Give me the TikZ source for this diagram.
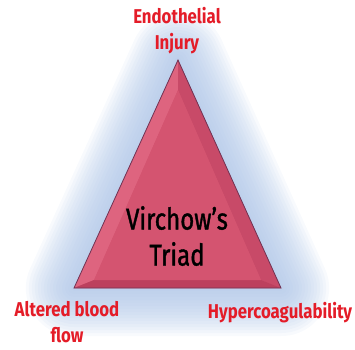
\documentclass[tikz,border=0pt]{standalone}
\usepackage{fontspec}
\setmainfont{Fira Sans}
\newfontfamily\labelfont[FakeStretch=0.84]{Fira Sans}
\newfontfamily\triadfont[FakeStretch=0.8,FakeBold=1.2]{Fira Sans}
\definecolor{labelred}{RGB}{228,28,40}
\definecolor{glowblue}{RGB}{170,194,230}
\definecolor{triface}{RGB}{212,84,112}
\definecolor{trileft}{RGB}{222,100,127}
\definecolor{triright}{RGB}{200,74,104}
\definecolor{tribottom}{RGB}{188,64,94}
\definecolor{triedge}{RGB}{112,52,84}
\begin{document}
\begin{tikzpicture}[x=1pt,y=-1pt,
  lbl/.style={text=labelred, font=\labelfont\bfseries\fontsize{20}{26}\selectfont, align=center, inner sep=0pt},
  ttl/.style={text=black, font=\triadfont\fontsize{30}{36}\selectfont, align=center, inner sep=0pt}]
\useasboundingbox (0,0) rectangle (355,349);
\coordinate (top) at (178,60);
\coordinate (left) at (74,288);
\coordinate (right) at (281,288);
\coordinate (itop) at (178,90);
\coordinate (ileft) at (94,280);
\coordinate (iright) at (261,280);
% soft blue glow
\foreach \w in {96,90,...,6}
  \draw[glowblue, line width=\w pt, line join=round, opacity=0.085] (top) -- (left) -- (right) -- cycle;
% bevelled triangle
\fill[triface] (top) -- (left) -- (right) -- cycle;
\fill[trileft] (top) -- (left) -- (ileft) -- (itop) -- cycle;
\fill[triright] (top) -- (right) -- (iright) -- (itop) -- cycle;
\fill[tribottom] (left) -- (right) -- (iright) -- (ileft) -- cycle;
\fill[triface] (itop) -- (ileft) -- (iright) -- cycle;
\draw[triedge, line width=0.8pt, line join=miter] (top) -- (left) -- (right) -- cycle;
% labels
\node[lbl] (endo) at (177,31) {Endothelial\\Injury};
\node[lbl] (flow) at (67,322) {Altered blood\\flow};
\node[lbl] (hyper) at (280,313) {Hypercoagulability};
\node[ttl] (triad) at (177,236) {Virchow’s\\Triad};
\end{tikzpicture}
\end{document}
